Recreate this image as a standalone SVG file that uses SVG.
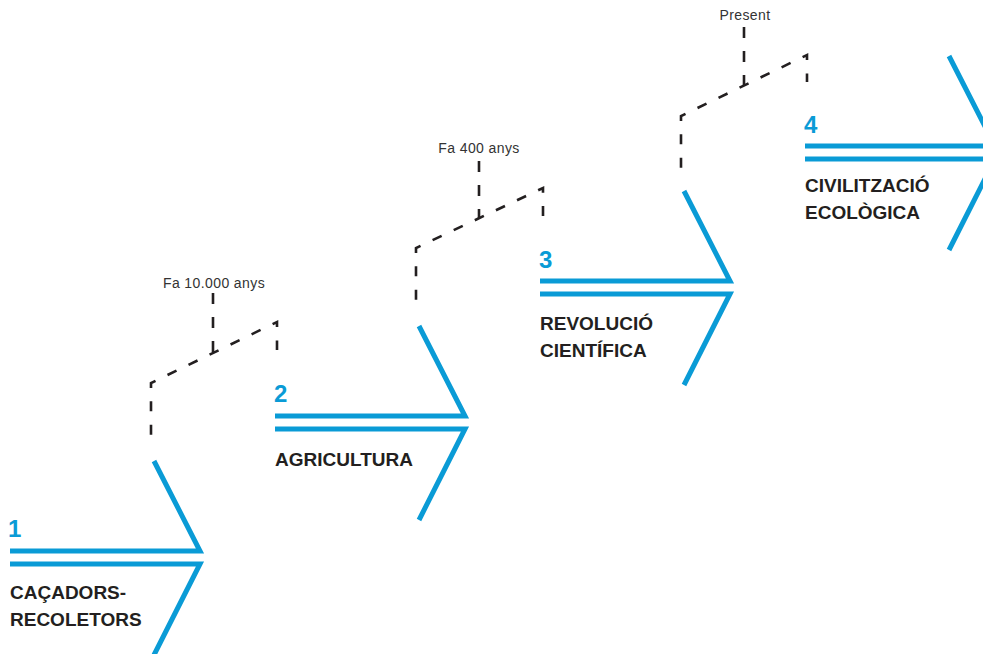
<svg xmlns="http://www.w3.org/2000/svg" width="983" height="654" viewBox="0 0 983 654">
<defs>
<style>
.chev{fill:none;stroke:#0a9bd6;stroke-width:5;stroke-linejoin:miter;stroke-miterlimit:10}
.num{font-family:"Liberation Sans",Arial,sans-serif;font-weight:700;font-size:24px;fill:#0a9bd6}
.lbl{font-family:"Liberation Sans",Arial,sans-serif;font-weight:700;font-size:19px;fill:#231f20}
.dash{fill:none;stroke:#231f20;stroke-width:2.6;stroke-dasharray:10 13.35}
.vdash{fill:none;stroke:#231f20;stroke-width:2.6;stroke-dasharray:11 13}
.time{font-family:"Liberation Sans",Arial,sans-serif;font-size:14px;fill:#333333;text-anchor:middle;letter-spacing:0.4px}
</style>
</defs>
<rect width="983" height="654" fill="#ffffff"/>
<g id="stage1">
<polyline class="chev" points="10,551 200,551 154,461"/>
<polyline class="chev" points="10,564 200,564 154,655"/>
<text class="num" x="8" y="537">1</text>
<text class="lbl" x="10" y="599">CAÇADORS-</text>
<text class="lbl" x="10" y="626">RECOLETORS</text>
</g>
<g id="stage2" transform="translate(265,-135)">
<polyline class="chev" points="10,551 200,551 154,461"/>
<polyline class="chev" points="10,564 200,564 154,655"/>
<text class="num" x="9" y="537">2</text>
<text class="lbl" x="10" y="601">AGRICULTURA</text>
</g>
<g id="stage3" transform="translate(530,-270)">
<polyline class="chev" points="10,551 200,551 154,461"/>
<polyline class="chev" points="10,564 200,564 154,655"/>
<text class="num" x="9" y="538">3</text>
<text class="lbl" x="10" y="600">REVOLUCIÓ</text>
<text class="lbl" x="10" y="627">CIENTÍFICA</text>
</g>
<g id="stage4" transform="translate(795,-405)">
<polyline class="chev" points="10,551 200,551 154,461"/>
<polyline class="chev" points="10,564 200,564 154,655"/>
<text class="num" x="9" y="538">4</text>
<text class="lbl" x="10" y="597">CIVILITZACIÓ</text>
<text class="lbl" x="10" y="624">ECOLÒGICA</text>
</g>
<g id="connectors">
<path class="dash" style="stroke-dashoffset:-0.3" d="M151,435 V383 L277,322 V350"/>
<path class="vdash" d="M213,293 V352"/>
<path class="dash" style="stroke-dashoffset:-2.3" d="M416,302 V248 L543,188 V217"/>
<path class="vdash" d="M479,161 V218"/>
<path class="dash" style="stroke-dashoffset:-0.3" d="M681,168 V116 L807,55 V82"/>
<path class="vdash" d="M744,27 V86"/>
</g>
<g id="time1"><text class="time" x="214" y="288">Fa 10.000 anys</text></g>
<g id="time2"><text class="time" x="479" y="153">Fa 400 anys</text></g>
<g id="time3"><text class="time" x="745" y="20">Present</text></g>
</svg>
